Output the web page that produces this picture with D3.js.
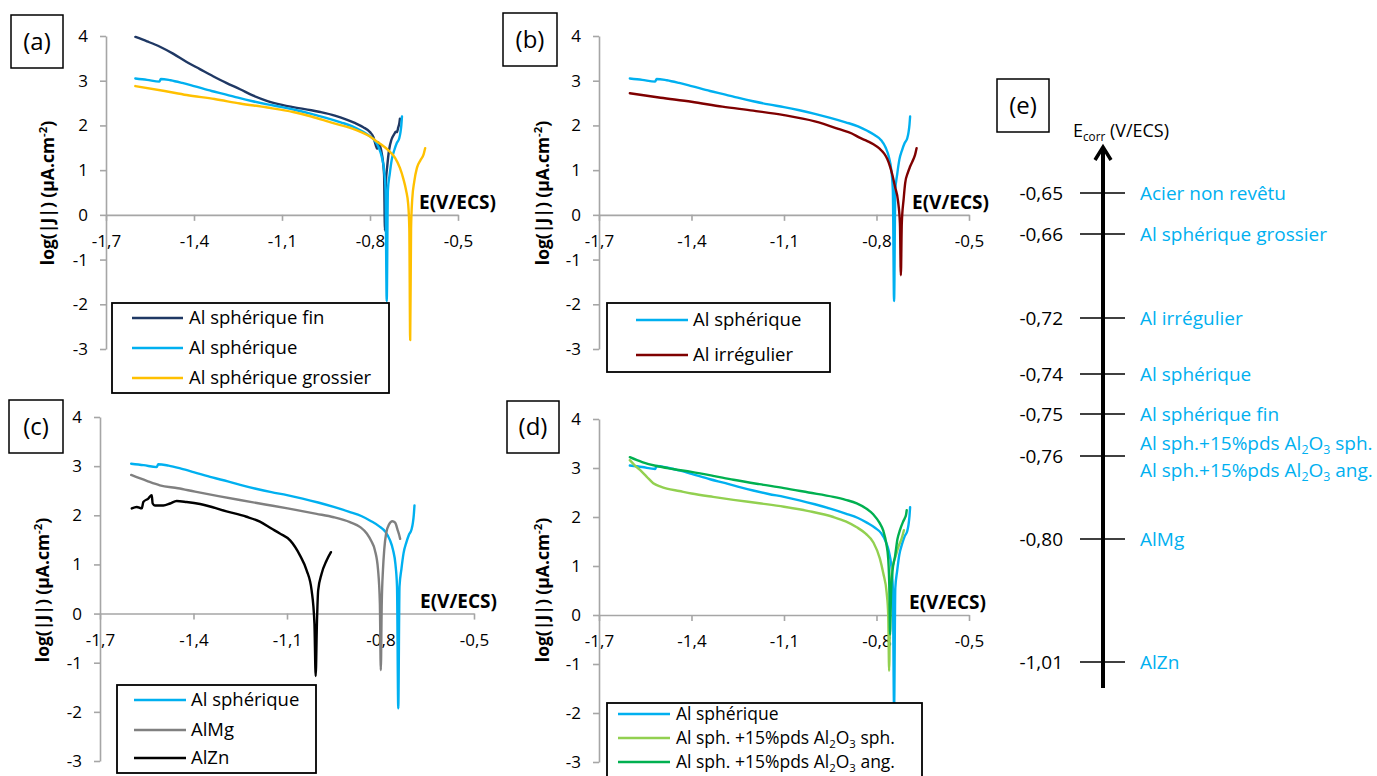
<!DOCTYPE html>
<html><head><meta charset="utf-8">
<script src="https://cdn.jsdelivr.net/npm/d3@7"></script>
<style>
body{margin:0;background:#fff;}
svg{display:block;font-family:'Open Sans',sans-serif;}
</style></head><body>
<svg id="chart" width="1377" height="776"></svg>
<script>
// ---------- data ----------
const xTicks = [-1.7, -1.4, -1.1, -0.8, -0.5];
const xTickLabels = ["-1,7", "-1,4", "-1,1", "-0,8", "-0,5"];
const yTicks = [4, 3, 2, 1, 0, -1, -2, -3];

// [E (V/ECS), log|J| (µA.cm-2)]
const alSphFin = [[-1.600,3.98],[-1.560,3.88],[-1.516,3.76],[-1.470,3.60],[-1.425,3.42],[-1.380,3.26],[-1.335,3.10],[-1.290,2.95],[-1.243,2.81],[-1.200,2.67],[-1.152,2.55],[-1.100,2.46],[-1.062,2.41],[-1.000,2.34],[-0.970,2.30],[-0.920,2.22],[-0.880,2.13],[-0.850,2.05],[-0.823,1.96],[-0.800,1.85],[-0.789,1.75],[-0.780,1.55],[-0.776,1.48],[-0.772,1.62],[-0.766,1.55],[-0.758,1.30],[-0.752,0.90],[-0.749,-0.35],[-0.746,0.70],[-0.741,1.10],[-0.735,1.45],[-0.727,1.68],[-0.718,1.80],[-0.712,1.86],[-0.708,1.85],[-0.704,1.95],[-0.700,2.05],[-0.698,2.15]];
const alSph = [[-1.600,3.05],[-1.560,3.02],[-1.518,2.98],[-1.513,3.04],[-1.480,3.01],[-1.440,2.95],[-1.400,2.88],[-1.340,2.77],[-1.290,2.69],[-1.250,2.62],[-1.200,2.54],[-1.150,2.47],[-1.100,2.41],[-1.050,2.34],[-1.000,2.26],[-0.950,2.17],[-0.900,2.07],[-0.860,1.98],[-0.830,1.88],[-0.805,1.78],[-0.785,1.67],[-0.770,1.50],[-0.760,1.30],[-0.752,1.00],[-0.747,0.55],[-0.743,-1.93],[-0.739,0.55],[-0.733,0.90],[-0.726,1.23],[-0.717,1.45],[-0.709,1.60],[-0.700,1.72],[-0.696,1.85],[-0.693,2.02],[-0.691,2.20]];
const alSphGrossier = [[-1.600,2.88],[-1.500,2.77],[-1.425,2.68],[-1.330,2.59],[-1.243,2.49],[-1.150,2.40],[-1.062,2.30],[-1.000,2.20],[-0.925,2.05],[-0.870,1.95],[-0.834,1.86],[-0.800,1.75],[-0.777,1.64],[-0.755,1.54],[-0.738,1.45],[-0.715,1.28],[-0.698,1.05],[-0.686,0.80],[-0.677,0.55],[-0.670,0.25],[-0.666,-0.30],[-0.663,-2.80],[-0.660,-0.30],[-0.656,0.35],[-0.649,0.75],[-0.640,1.05],[-0.628,1.22],[-0.617,1.36],[-0.612,1.49]];
const alIrregulier = [[-1.600,2.72],[-1.500,2.62],[-1.400,2.53],[-1.300,2.42],[-1.200,2.33],[-1.100,2.23],[-1.000,2.09],[-0.918,1.91],[-0.880,1.82],[-0.853,1.72],[-0.830,1.65],[-0.810,1.58],[-0.790,1.48],[-0.775,1.37],[-0.765,1.25],[-0.756,1.08],[-0.748,0.88],[-0.740,0.63],[-0.730,0.30],[-0.724,-0.20],[-0.721,-1.35],[-0.718,-0.20],[-0.712,0.35],[-0.707,0.71],[-0.698,0.95],[-0.691,1.08],[-0.680,1.25],[-0.675,1.34],[-0.670,1.49]];
const alMg = [[-1.600,2.82],[-1.550,2.70],[-1.508,2.61],[-1.450,2.55],[-1.395,2.48],[-1.320,2.39],[-1.251,2.31],[-1.170,2.22],[-1.098,2.14],[-1.005,2.03],[-0.950,1.96],[-0.898,1.86],[-0.865,1.76],[-0.844,1.63],[-0.830,1.48],[-0.818,1.29],[-0.808,0.90],[-0.802,0.20],[-0.799,-1.15],[-0.796,0.20],[-0.792,0.90],[-0.788,1.30],[-0.782,1.63],[-0.772,1.82],[-0.762,1.88],[-0.753,1.85],[-0.745,1.70],[-0.740,1.60],[-0.737,1.52]];
const alZn = [[-1.598,2.14],[-1.582,2.17],[-1.566,2.14],[-1.561,2.27],[-1.545,2.34],[-1.534,2.41],[-1.531,2.24],[-1.524,2.20],[-1.497,2.20],[-1.475,2.24],[-1.454,2.29],[-1.422,2.27],[-1.379,2.23],[-1.294,2.08],[-1.230,1.97],[-1.187,1.87],[-1.150,1.73],[-1.123,1.63],[-1.090,1.49],[-1.058,1.18],[-1.037,0.88],[-1.021,0.47],[-1.012,-0.20],[-1.008,-1.27],[-1.004,-0.20],[-1.000,0.47],[-0.989,0.81],[-0.973,1.08],[-0.959,1.25]];
const alSphAl2O3Sph = [[-1.600,3.16],[-1.585,3.06],[-1.567,2.96],[-1.545,2.82],[-1.524,2.69],[-1.500,2.62],[-1.480,2.58],[-1.440,2.53],[-1.400,2.48],[-1.330,2.41],[-1.264,2.35],[-1.180,2.28],[-1.100,2.21],[-1.020,2.12],[-0.940,2.00],[-0.900,1.91],[-0.864,1.79],[-0.835,1.66],[-0.810,1.48],[-0.789,1.15],[-0.778,0.85],[-0.767,0.45],[-0.762,0.00],[-0.759,-1.14],[-0.756,0.20],[-0.751,0.85],[-0.745,1.06],[-0.738,1.20],[-0.729,1.39],[-0.718,1.57],[-0.711,1.73]];
const alSphAl2O3Ang = [[-1.600,3.22],[-1.560,3.12],[-1.513,3.04],[-1.460,2.98],[-1.400,2.92],[-1.330,2.84],[-1.264,2.76],[-1.180,2.67],[-1.100,2.59],[-1.020,2.50],[-0.940,2.41],[-0.900,2.35],[-0.864,2.28],[-0.835,2.18],[-0.810,2.05],[-0.790,1.88],[-0.778,1.72],[-0.768,1.45],[-0.762,1.15],[-0.758,0.45],[-0.756,-0.40],[-0.753,0.40],[-0.748,0.90],[-0.740,1.19],[-0.732,1.55],[-0.724,1.73],[-0.714,1.90],[-0.708,1.98],[-0.704,2.05],[-0.702,2.14]];

const ecorrValues = [-0.65, -0.66, -0.72, -0.74, -0.75, -0.76, -0.80, -1.01];
const ecorrLabels = ["-0,65", "-0,66", "-0,72", "-0,74", "-0,75", "-0,76", "-0,80", "-1,01"];
const ecorrNames = [["Acier non revêtu"], ["Al sphérique grossier"], ["Al irrégulier"], ["Al sphérique"], ["Al sphérique fin"], ["Al sph.+15%pds Al_{2}O_{3} sph.", "Al sph.+15%pds Al_{2}O_{3} ang."], ["AlMg"], ["AlZn"]];

// ---------- styles / layout ----------
const COL = {fin:"#1F3864", sph:"#00B0F0", gros:"#FFC000", irr:"#7F0000", mg:"#808080", zn:"#000000", o3s:"#92D050", o3a:"#00B050"};
const AXIS = "#a6a6a6";
const svg = d3.select("#chart");

// rich text: _{..} subscript, ^{..} superscript; base = vertical offset of baseline (px)
function rich(sel, str, fs, base) {
  const parts = str.split(/(_\{[^}]*\}|\^\{[^}]*\})/).filter(s => s.length);
  let shift = -base;
  parts.forEach(p => {
    let txt = p, target = 0, size = fs;
    if (p.startsWith("_{")) { txt = p.slice(2, -1); target = fs * 0.24; size = fs * 0.65; }
    else if (p.startsWith("^{")) { txt = p.slice(2, -1); target = -fs * 0.38; size = fs * 0.65; }
    sel.append("tspan").attr("dy", target - shift).attr("font-size", size).text(txt);
    shift = target;
  });
}

const panels = [
  {x0:106, x1:458, yTop:36, yBot:349, label:"(a)", box:[11,15,52,53], yTitle:[48,193], eLab:[419,209],
   series:[{d:alSphFin,c:COL.fin},{d:alSph,c:COL.sph},{d:alSphGrossier,c:COL.gros}],
   legend:{x:112,y:303,w:277,h:90,rows:[318,348,378],l0:132,l1:183,tx:189,fs:18.5,
     items:[{t:"Al sphérique fin",c:COL.fin},{t:"Al sphérique",c:COL.sph},{t:"Al sphérique grossier",c:COL.gros}]}},
  {x0:599, x1:969, yTop:36, yBot:349, label:"(b)", box:[503,13,54,53], yTitle:[543,193], eLab:[912,209],
   series:[{d:alSph,c:COL.sph},{d:alIrregulier,c:COL.irr}],
   legend:{x:607,y:303,w:223,h:69,rows:[320,355],l0:636,l1:688,tx:693,fs:18.5,
     items:[{t:"Al sphérique",c:COL.sph},{t:"Al irrégulier",c:COL.irr}]}},
  {x0:100, x1:474, yTop:417, yBot:761, label:"(c)", box:[9,400,54,53], yTitle:[43,590], eLab:[420,608],
   series:[{d:alSph,c:COL.sph},{d:alMg,c:COL.mg},{d:alZn,c:COL.zn}],
   legend:{x:117,y:685,w:199,h:88,rows:[700,730,758],l0:134,l1:186,tx:191,fs:18.5,
     items:[{t:"Al sphérique",c:COL.sph},{t:"AlMg",c:COL.mg},{t:"AlZn",c:COL.zn}]}},
  {x0:599, x1:969, yTop:419, yBot:762, label:"(d)", box:[507,401,52,52], yTitle:[543,590], eLab:[909,609],
   series:[{d:alSph,c:COL.sph},{d:alSphAl2O3Sph,c:COL.o3s},{d:alSphAl2O3Ang,c:COL.o3a}],
   legend:{x:607,y:703,w:315,h:80,rows:[714,738,762],l0:618,l1:670,tx:676,fs:17.5,
     items:[{t:"Al sphérique",c:COL.sph},{t:"Al sph. +15%pds Al_{2}O_{3} sph.",c:COL.o3s},{t:"Al sph. +15%pds Al_{2}O_{3} ang.",c:COL.o3a}]}}
];

panels.forEach(p => {
  const g = svg.append("g");
  const x = d3.scaleLinear().domain([-1.7, -0.5]).range([p.x0, p.x1]);
  const y = d3.scaleLinear().domain([-3, 4]).range([p.yBot, p.yTop]);

  const ya = g.append("g").attr("transform", `translate(${p.x0},0)`)
    .call(d3.axisLeft(y).tickValues(yTicks).tickFormat(d => String(d)).tickSize(6).tickSizeOuter(0).tickPadding(12));
  const xa = g.append("g").attr("transform", `translate(0,${y(0)})`)
    .call(d3.axisBottom(x).tickValues(xTicks).tickFormat((d, i) => xTickLabels[i]).tickSize(6).tickSizeOuter(0).tickPadding(14));
  [ya, xa].forEach(a => {
    a.select(".domain").attr("stroke", AXIS).attr("stroke-width", 1.6);
    a.selectAll(".tick line").attr("stroke", AXIS).attr("stroke-width", 1.6);
    a.selectAll(".tick text").attr("fill", "#000").attr("font-size", 17).attr("font-family", "'Open Sans',sans-serif");
  });

  const line = d3.line().x(d => x(d[0])).y(d => y(d[1])).curve(d3.curveMonotoneX);
  p.series.forEach(s => {
    g.append("path").attr("d", line(s.d)).attr("fill", "none").attr("stroke", s.c)
      .attr("stroke-width", 2.4).attr("stroke-linejoin", "round").attr("stroke-linecap", "round");
  });

  g.append("text").attr("x", p.eLab[0]).attr("y", p.eLab[1]).attr("font-weight", "bold").attr("font-size", 19).text("E(V/ECS)");
  const yt = g.append("text").attr("transform", `translate(${p.yTitle[0]},${p.yTitle[1]}) rotate(-90)`)
    .attr("text-anchor", "middle").attr("font-weight", "bold");
  rich(yt, "log(|J|) (µA.cm^{-2})", 17.5, 6);

  g.append("rect").attr("x", p.box[0]).attr("y", p.box[1]).attr("width", p.box[2]).attr("height", p.box[3])
    .attr("fill", "#fff").attr("stroke", "#000").attr("stroke-width", 1.5);
  g.append("text").attr("x", p.box[0] + p.box[2] / 2).attr("y", p.box[1] + p.box[3] / 2).attr("dy", "0.35em")
    .attr("text-anchor", "middle").attr("font-size", 24).text(p.label);

  const L = p.legend;
  g.append("rect").attr("x", L.x).attr("y", L.y).attr("width", L.w).attr("height", L.h)
    .attr("fill", "#fff").attr("stroke", "#000").attr("stroke-width", 1.8);
  L.items.forEach((it, i) => {
    g.append("line").attr("x1", L.l0).attr("x2", L.l1).attr("y1", L.rows[i]).attr("y2", L.rows[i])
      .attr("stroke", it.c).attr("stroke-width", 2.6);
    const t = g.append("text").attr("x", L.tx).attr("y", L.rows[i]).attr("font-size", L.fs);
    rich(t, it.t, L.fs, L.fs * 0.35);
  });
});

// ---------- panel (e) ----------
const ge = svg.append("g");
const eY = d3.scaleLinear().domain(ecorrValues).range([193, 234, 318, 374, 414, 456, 539, 662]);
const axX = 1103;
ge.append("rect").attr("x", 997).attr("y", 79).attr("width", 52).attr("height", 53)
  .attr("fill", "#fff").attr("stroke", "#000").attr("stroke-width", 1.5);
ge.append("text").attr("x", 1023).attr("y", 105.5).attr("dy", "0.35em").attr("text-anchor", "middle").attr("font-size", 24).text("(e)");
ge.append("line").attr("x1", axX).attr("x2", axX).attr("y1", eY(-1.01) + 26).attr("y2", eY(-0.65) - 46)
  .attr("stroke", "#000").attr("stroke-width", 4);
ge.append("path").attr("d", `M${axX - 8},${eY(-0.65) - 33} L${axX},${eY(-0.65) - 46} L${axX + 8},${eY(-0.65) - 33}`)
  .attr("fill", "none").attr("stroke", "#000").attr("stroke-width", 3.5).attr("stroke-linejoin", "miter");
const et = ge.append("text").attr("x", 1073).attr("y", 137).attr("font-size", 18);
rich(et, "E_{corr} (V/ECS)", 18, 0);

ecorrValues.forEach((v, i) => {
  const yy = eY(v);
  ge.append("line").attr("x1", axX - 23).attr("x2", axX + 22).attr("y1", yy).attr("y2", yy).attr("stroke", "#000").attr("stroke-width", 1.5);
  ge.append("text").attr("x", 1063).attr("y", yy).attr("dy", "0.35em").attr("text-anchor", "end").attr("font-size", 19).text(ecorrLabels[i]);
  const names = ecorrNames[i];
  names.forEach((n, j) => {
    const off = names.length === 1 ? 0 : (j === 0 ? -13 : 14);
    const t = ge.append("text").attr("x", 1140).attr("y", yy + off).attr("font-size", 19).attr("fill", "#00B0F0");
    rich(t, n, 19, 6.7);
  });
});
</script>
</body></html>
